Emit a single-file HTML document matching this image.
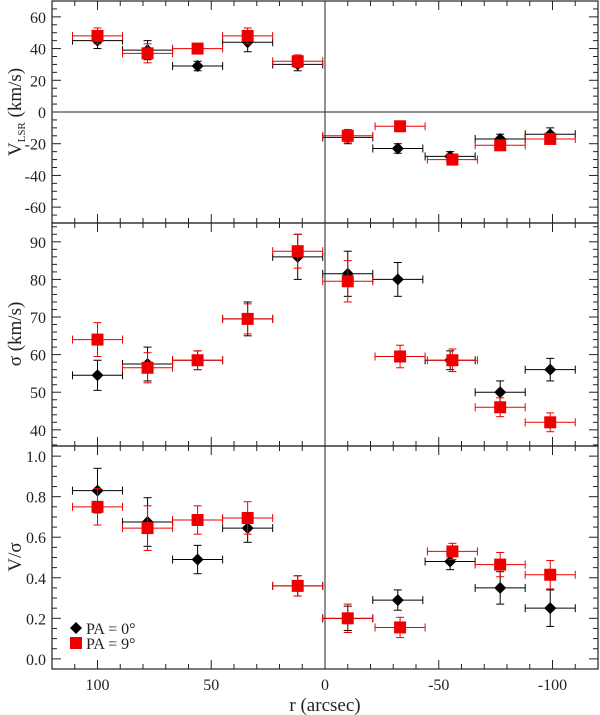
<!DOCTYPE html>
<html><head><meta charset="utf-8"><style>
body{margin:0;background:#fff}
svg{display:block}
text{font-family:"Liberation Serif",serif;fill:#222}
</style></head><body>
<svg id="chart" width="600" height="715"></svg>
<script>
const rBlack=[100,78,56,34,12,-10,-32,-55,-77,-99];
const rRed=[100,78,56,34,12,-10,-33,-56,-77,-99];
const vBlack=[45,39,29,44,30,-16,-23,-28,-17,-14];
const vBlackErr=[5,6,3,6,4,4,3,3,3,4];
const vRed=[48,37,40,48,32,-15,-9,-30,-21,-17];
const vRedErr=[5,6,3,5,4,4,2,3,3,3];
const sBlack=[54.5,57.5,58.5,69.5,86,81.5,80,58.5,50,56];
const sBlackErr=[4,4.5,2.5,4.5,6,6,4.5,2.5,3,3];
const sRed=[64,56.5,58.5,69.5,87.5,79.5,59.5,58.5,46,42];
const sRedErr=[4.5,4,2.5,4,4.5,5.5,3,3,2.5,2.5];
const qBlack=[0.83,0.675,0.49,0.645,0.36,0.20,0.29,0.48,0.35,0.25];
const qBlackErr=[0.11,0.12,0.07,0.07,0.05,0.06,0.05,0.04,0.08,0.09];
const qRed=[0.75,0.645,0.685,0.695,0.36,0.20,0.155,0.53,0.465,0.415];
const qRedErr=[0.09,0.11,0.07,0.08,0.05,0.07,0.05,0.04,0.06,0.07];
const xErr=11;
const xTicks=[100,50,0,-50,-100];

const NS="http://www.w3.org/2000/svg";
const svg=document.getElementById('chart');
const L=52,R=598;
const xs=v=>L+(120-v)/240*(R-L);
function el(t,a,p){const e=document.createElementNS(NS,t);for(const k in a)e.setAttribute(k,a[k]);(p||svg).appendChild(e);return e;}

const panels=[
 {name:'velocity',top:1,bot:223,min:-70,max:70,major:20,minor:5,ticks:[-60,-40,-20,0,20,40,60],fmt:v=>String(v),b:vBlack,be:vBlackErr,r:vRed,re:vRedErr,zero:true},
 {name:'dispersion',top:223,bot:446,min:35.7,max:95,major:10,minor:2,ticks:[40,50,60,70,80,90],fmt:v=>String(v),b:sBlack,be:sBlackErr,r:sRed,re:sRedErr},
 {name:'v-over-sigma',top:446,bot:669,min:-0.05,max:1.05,major:0.2,minor:0.05,ticks:[0,0.2,0.4,0.6,0.8,1.0],fmt:v=>v.toFixed(1),b:qBlack,be:qBlackErr,r:qRed,re:qRedErr}
];
panels.forEach(p=>{
 const g=el('g',{});
 
 
 const ys=v=>p.bot-(v-p.min)/(p.max-p.min)*(p.bot-p.top);
 el('rect',{x:L,y:p.top,width:R-L,height:p.bot-p.top,fill:'none',stroke:'#222','stroke-width':1.2},g);
 // y minor ticks
 for(let v=Math.ceil(p.min/p.minor)*p.minor;v<=p.max+1e-9;v+=p.minor){
  const y=ys(v);
  const maj=Math.abs(v/p.major-Math.round(v/p.major))<1e-6;
  const len=maj?9:5;
  el('line',{x1:L,x2:L+len,y1:y,y2:y,stroke:'#222'},g);
  el('line',{x1:R,x2:R-len,y1:y,y2:y,stroke:'#222'},g);
 }
 p.ticks.forEach(v=>{const t=el('text',{x:L-6,y:ys(v)+6,'text-anchor':'end','font-size':16},g);t.textContent=p.fmt(v);});
 // x ticks
 for(let v=-120;v<=120;v+=10){
  const x=xs(v);const len=v%50===0?9:5;
  el('line',{x1:x,x2:x,y1:p.bot,y2:p.bot-len,stroke:'#222'},g);
  el('line',{x1:x,x2:x,y1:p.top,y2:p.top+len,stroke:'#222'},g);
 }
 el('line',{x1:xs(0),x2:xs(0),y1:p.top,y2:p.bot,stroke:'#222'},g);
 if(p.zero) el('line',{x1:L,x2:R,y1:ys(0),y2:ys(0),stroke:'#222'},g);
 // series
 [[rBlack,p.b,p.be,'#000','black'],[rRed,p.r,p.re,'#e00','red']].forEach(([rx,vals,errs,col,nm])=>{
  vals.forEach((v,i)=>{
   const x=xs(rx[i]),y=ys(v),x1=xs(rx[i]+xErr),x2=xs(rx[i]-xErr),y1=ys(v+errs[i]),y2=ys(v-errs[i]);
   const sg=el('g',{stroke:col,'stroke-width':1,fill:col},g);
   
   
   el('line',{x1:x1,x2:x2,y1:y,y2:y},sg);
   el('line',{x1:x1,x2:x1,y1:y-4,y2:y+4},sg);
   el('line',{x1:x2,x2:x2,y1:y-4,y2:y+4},sg);
   el('line',{x1:x,x2:x,y1:y1,y2:y2},sg);
   el('line',{x1:x-4,x2:x+4,y1:y1,y2:y1},sg);
   el('line',{x1:x-4,x2:x+4,y1:y2,y2:y2},sg);
   if(nm==='black') el('polygon',{points:`${x},${y-6} ${x+6},${y} ${x},${y+6} ${x-6},${y}`,stroke:'none'},sg);
   else el('rect',{x:x-6,y:y-6,width:12,height:12,stroke:'none'},sg);
  });
 });
});
xTicks.forEach(v=>{const t=el('text',{x:xs(v),y:690,'text-anchor':'middle','font-size':16});t.textContent=String(v);});
let t=el('text',{x:325,y:711,'text-anchor':'middle','font-size':19});t.textContent='r (arcsec)';
t=el('text',{transform:'translate(21,112) rotate(-90)','text-anchor':'middle','font-size':19});
t.innerHTML='V<tspan font-size="11" dy="4">LSR</tspan><tspan dy="-4"> (km/s)</tspan>';
t=el('text',{transform:'translate(21,334) rotate(-90)','text-anchor':'middle','font-size':19});t.textContent='σ (km/s)';
t=el('text',{transform:'translate(21,557) rotate(-90)','text-anchor':'middle','font-size':19});t.textContent='V/σ';
// legend
const lg=el('g',{});
el('polygon',{points:'76,622 82,628 76,634 70,628',fill:'#000'},lg);
t=el('text',{x:86,y:634,'font-size':16},lg);t.textContent='PA = 0°';
el('rect',{x:70,y:637,width:12,height:12,fill:'#e00'},lg);
t=el('text',{x:86,y:649,'font-size':16},lg);t.textContent='PA = 9°';
</script>
</body></html>
